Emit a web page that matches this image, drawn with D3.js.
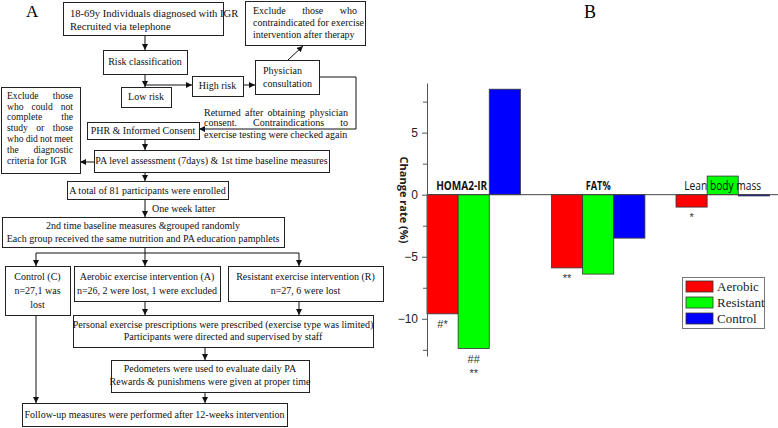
<!DOCTYPE html>
<html><head><meta charset="utf-8">
<script src="https://cdn.jsdelivr.net/npm/d3@7"></script>
<style>
html,body{margin:0;padding:0;background:#fff;}
svg{display:block;}
.fc text{font-family:"Liberation Serif","Times New Roman",serif;font-size:10px;fill:#111;}
</style></head>
<body>
<svg id="chart" width="778" height="428"></svg>
<script>
// ---------- DATA (panel B) ----------
const categories = ["HOMA2-IR", "FAT%", "Lean body mass"];
const seriesNames = ["Aerobic", "Resistant", "Control"];
const aerobic = [-9.6, -5.9, -1.0];
const resistant = [-12.4, -6.4, 1.5];
const control = [8.5, -3.5, -0.1];
const yTickLabels = [-10, -5, 0, 5];
const yMinorTicks = [-12.5, -7.5, -2.5, 2.5, 7.5];
const sigMarks = [
  {cat: "HOMA2-IR", series: "Aerobic", lines: ["#*"]},
  {cat: "HOMA2-IR", series: "Resistant", lines: ["##", "**"]},
  {cat: "FAT%", series: "Aerobic", lines: ["**"]},
  {cat: "Lean body mass", series: "Aerobic", lines: ["*"]}
];
const seriesColors = ["#ff0000", "#00ff00", "#0000ff"];

// ---------- FLOWCHART TEXT (panel A) ----------
const fcBoxes = [
  {id:"b1", x:63, y:2, w:160, h:33, anchor:"start", tx:70, fs:10.6, lines:["18-69y Individuals diagnosed with IGR","Recruited via telephone"], by:[17,30]},
  {id:"risk", x:103, y:50, w:84, h:24, lines:["Risk classification"], by:[65]},
  {id:"low", x:121, y:87, w:50, h:20, lines:["Low risk"], by:[100]},
  {id:"high", x:192, y:76, w:51, h:20, lines:["High risk"], by:[89]},
  {id:"phys", x:255, y:60, w:64, h:34, anchor:"start", tx:263, lines:["Physician","consultation"], by:[74,87]},
  {id:"exTop", x:245, y:1, w:120, h:44, anchor:"start", tx:253, lines:["Exclude those who","contraindicated for exercise","intervention after therapy"], by:[14,26,38], justify:[104,0,0]},
  {id:"phr", x:87, y:122, w:112, h:17, lines:["PHR & Informed Consent"], by:[134]},
  {id:"exLeft", x:1, y:87, w:79, h:86, anchor:"start", tx:7, fs:9.6, lines:["Exclude those","who could not","complete the","study or those","who did not meet","the diagnostic","criteria for IGR"], by:[99,110,120,131,142,153,164], justify:[66,66,66,66,66,66,0]},
  {id:"pa", x:94, y:150, w:235, h:22, lines:["PA level assessment (7days) & 1st time baseline measures"], by:[164]},
  {id:"total", x:67, y:181, w:161, h:18, lines:["A total of 81 participants were enrolled"], by:[194]},
  {id:"second", x:2, y:217, w:282, h:30, lines:["2nd time baseline measures &grouped randomly","Each group received the same nutrition and PA education pamphlets"], by:[229,242]},
  {id:"control", x:5, y:266, w:65, h:49, lines:["Control (C)","n=27,1 was","lost"], by:[280,294,308]},
  {id:"aerobic", x:74, y:266, w:146, h:35, lines:["Aerobic exercise intervention (A)","n=26, 2 were lost, 1 were excluded"], by:[280,294]},
  {id:"resist", x:228, y:266, w:155, h:35, lines:["Resistant exercise intervention (R)","n=27, 6 were lost"], by:[280,294]},
  {id:"personal", x:73, y:315, w:300, h:32, lines:["Personal exercise prescriptions were prescribed (exercise type was limited)","Participants were directed and supervised by staff"], by:[328,340]},
  {id:"pedo", x:111, y:360, w:198, h:32, lines:["Pedometers were used to evaluate daily PA","Rewards & punishmens were given at proper time"], by:[372,385]},
  {id:"follow", x:22, y:403, w:265, h:23, lines:["Follow-up measures were performed after 12-weeks intervention"], by:[418]}
];
const freeTexts = [
  {x:204, y:116, t:"Returned after obtaining physician", justify:144},
  {x:204, y:126, t:"consent. Contraindications to", justify:144},
  {x:204, y:138, t:"exercise testing were checked again"},
  {x:152, y:212, t:"One week latter"}
];
const fcLinks = [
  {pts:[[145,35],[145,50]], arrow:true},
  {pts:[[145,74],[145,87]], arrow:true},
  {pts:[[145,85],[192,85]], arrow:true},
  {pts:[[243,85],[255,85]], arrow:true},
  {pts:[[288,60],[303,46]], arrow:true},
  {pts:[[319,77],[356,77],[356,129],[199,129]], arrow:true},
  {pts:[[145,139],[145,150]], arrow:true},
  {pts:[[94,162],[80,162]], arrow:true},
  {pts:[[145,172],[145,181]], arrow:true},
  {pts:[[145,199],[145,217]], arrow:true},
  {pts:[[145,247],[145,266]], arrow:true},
  {pts:[[36,253],[299,253]], arrow:false},
  {pts:[[36,253],[36,266]], arrow:true},
  {pts:[[299,253],[299,266]], arrow:true},
  {pts:[[145,301],[145,315]], arrow:true},
  {pts:[[299,301],[299,315]], arrow:true},
  {pts:[[205,347],[205,360]], arrow:true},
  {pts:[[205,392],[205,403]], arrow:true},
  {pts:[[36,315],[36,403]], arrow:true}
];

const svg = d3.select("#chart");
svg.append("defs").append("marker")
  .attr("id","arr").attr("markerUnits","userSpaceOnUse")
  .attr("markerWidth",7).attr("markerHeight",7)
  .attr("refX",6).attr("refY",3).attr("orient","auto")
  .append("path").attr("d","M0,0 L6,3 L0,6 Z").attr("fill","#111");

// word-justify a line of text between x and x+width
function justifyText(textSel, str, x, width) {
  const words = str.split(/\s+/);
  const spans = words.map(w => textSel.append("tspan").text(w));
  const widths = spans.map(s => s.node().getComputedTextLength());
  const total = d3.sum(widths);
  const gap = words.length > 1 ? (width - total) / (words.length - 1) : 0;
  let cx = x;
  spans.forEach((s, i) => { s.attr("x", cx); cx += widths[i] + gap; });
}

// ---------- PANEL A ----------
const fc = svg.append("g").attr("class","fc");
svg.append("text").attr("x",26).attr("y",17)
  .style("font-family","'Liberation Serif',serif").style("font-size","17px").text("A");

fc.selectAll("path.link").data(fcLinks).join("path")
  .attr("class","link")
  .attr("d", d => d3.line()(d.pts))
  .attr("fill","none").attr("stroke","#111").attr("stroke-width",1)
  .attr("marker-end", d => d.arrow ? "url(#arr)" : null);

const bg = fc.selectAll("g.box").data(fcBoxes).join("g").attr("class","box");
bg.append("rect")
  .attr("x", d => d.x + 0.5).attr("y", d => d.y + 0.5)
  .attr("width", d => d.w).attr("height", d => d.h)
  .attr("fill","#fff").attr("stroke","#222").attr("stroke-width",1);
bg.each(function(d){
  const g = d3.select(this);
  d.lines.forEach((ln, i) => {
    const t = g.append("text")
      .attr("y", d.by[i])
      .style("font-size", d.fs ? d.fs + "px" : null);
    if (d.justify && d.justify[i]) {
      justifyText(t, ln, d.tx, d.justify[i]);
    } else {
      t.attr("x", d.anchor === "start" ? d.tx : d.x + d.w/2)
       .attr("text-anchor", d.anchor || "middle")
       .text(ln);
    }
  });
});
freeTexts.forEach(d => {
  const t = fc.append("text").attr("y", d.y);
  if (d.justify) justifyText(t, d.t, d.x, d.justify);
  else t.attr("x", d.x).text(d.t);
});

// ---------- PANEL B ----------
svg.append("text").attr("x",584).attr("y",18)
  .style("font-family","'Liberation Serif',serif").style("font-size","18px").text("B");

const x0 = d3.scaleBand().domain(categories).range([427, 769.4]).paddingInner(0.25).paddingOuter(0);
const x1 = d3.scaleBand().domain(seriesNames).range([0, x0.bandwidth()]);
const y = d3.scaleLinear().domain([-13, 9]).range([356, 83]);

const valuesBySeries = [aerobic, resistant, control];
const barData = [];
categories.forEach((c, ci) => seriesNames.forEach((s, si) =>
  barData.push({cat:c, series:s, value:valuesBySeries[si][ci], color:seriesColors[si]})));

svg.append("g").selectAll("rect").data(barData).join("rect")
  .attr("x", d => x0(d.cat) + x1(d.series))
  .attr("width", x1.bandwidth())
  .attr("y", d => y(Math.max(0, d.value)))
  .attr("height", d => Math.max(1, Math.abs(y(d.value) - y(0))))
  .attr("fill", d => d.color)
  .attr("stroke", "#333").attr("stroke-width", 0.8);

// zero line
svg.append("line").attr("x1",427).attr("x2",778).attr("y1",y(0)).attr("y2",y(0))
  .attr("stroke","#444").attr("stroke-width",1);

// axis
const ax = svg.append("g").attr("transform","translate(427,0)")
  .call(d3.axisLeft(y).tickValues(yTickLabels).tickSize(5).tickSizeOuter(0).tickPadding(4).tickFormat(d3.format("d")));
ax.select(".domain").attr("stroke","#555");
ax.selectAll(".tick line").attr("stroke","#555");
ax.selectAll(".tick text").style("font-family","'Liberation Sans',Arial,sans-serif").style("font-size","12px").attr("fill","#222");
const axm = svg.append("g").attr("transform","translate(427,0)")
  .call(d3.axisLeft(y).tickValues(yMinorTicks).tickSize(4).tickSizeOuter(0).tickFormat(""));
axm.select(".domain").remove();
axm.selectAll(".tick line").attr("stroke","#555");

// y title
svg.append("text").attr("transform","translate(400,200) rotate(90)")
  .attr("text-anchor","middle")
  .style("font-family","'Open Sans','Noto Sans',sans-serif").style("font-size","11px").style("font-weight","bold")
  .attr("fill","#222").text("Change rate (%)");

// category labels
const catDx = {"HOMA2-IR": -12, "FAT%": 0, "Lean body mass": 0};
const catLen = {"HOMA2-IR": 51, "FAT%": 25, "Lean body mass": 77};
svg.append("g").selectAll("text").data(categories).join("text")
  .attr("x", d => x0(d) + x0.bandwidth()/2 + catDx[d])
  .attr("y", y(0) - 5)
  .attr("text-anchor","middle")
  .attr("textLength", d => catLen[d]).attr("lengthAdjust","spacingAndGlyphs")
  .style("font-family","'Open Sans','Noto Sans',sans-serif").style("font-size","12px")
  .style("font-weight", d => d === "Lean body mass" ? "normal" : "bold")
  .attr("fill","#111")
  .text(d => d);

// significance marks
const sig = svg.append("g");
sigMarks.forEach(m => {
  const v = valuesBySeries[seriesNames.indexOf(m.series)][categories.indexOf(m.cat)];
  const cx = x0(m.cat) + x1(m.series) + x1.bandwidth()/2;
  m.lines.forEach((ln, i) => {
    sig.append("text").attr("x", cx).attr("y", y(v) + 14 + i*14)
      .attr("text-anchor","middle")
      .style("font-family","'Liberation Sans',Arial,sans-serif").style("font-size","11px")
      .attr("fill","#333").text(ln);
  });
});

// legend
const lg = svg.append("g").attr("transform","translate(682,277)");
lg.append("rect").attr("x",0.5).attr("y",0.5).attr("width",82).attr("height",51)
  .attr("fill","#fff").attr("stroke","#777");
seriesNames.forEach((s, i) => {
  lg.append("rect").attr("x",4).attr("y",4 + i*16).attr("width",27).attr("height",11)
    .attr("fill", seriesColors[i]).attr("stroke","#333").attr("stroke-width",0.8);
  lg.append("text").attr("x",35).attr("y",14 + i*16)
    .style("font-family","'Liberation Serif',serif").style("font-size","13px")
    .attr("fill","#222").text(s);
});
</script>
</body></html>
